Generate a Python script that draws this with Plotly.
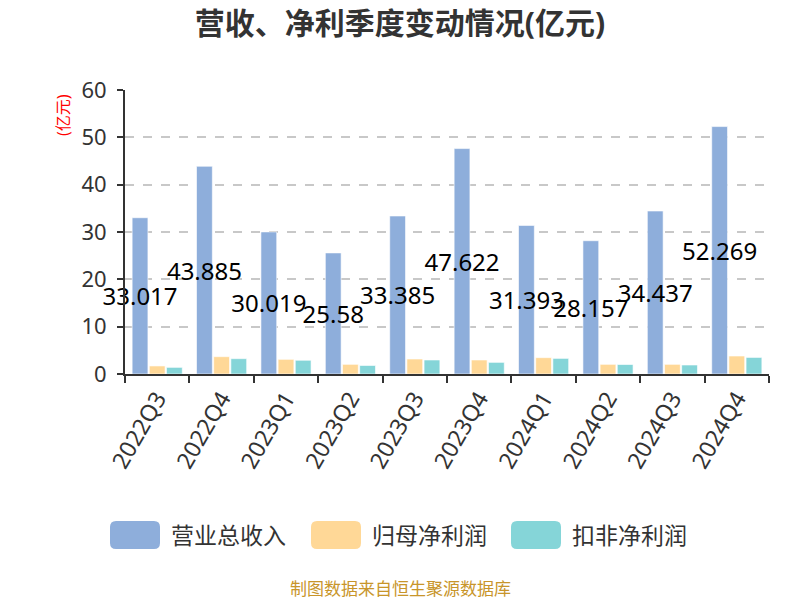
import plotly.graph_objects as go

quarters = ["2022Q3", "2022Q4", "2023Q1", "2023Q2", "2023Q3", "2023Q4", "2024Q1", "2024Q2", "2024Q3", "2024Q4"]
revenue = [33.017, 43.885, 30.019, 25.58, 33.385, 47.622, 31.393, 28.157, 34.437, 52.269]
revenue_labels = ["33.017", "43.885", "30.019", "25.58", "33.385", "47.622", "31.393", "28.157", "34.437", "52.269"]
net_profit = [1.7, 3.66, 3.1, 2.04, 3.17, 2.96, 3.45, 2.04, 2.04, 3.8]
net_profit_ded = [1.4, 3.24, 2.9, 1.8, 2.96, 2.46, 3.3, 2.0, 1.9, 3.5]
series_names = ["营业总收入", "归母净利润", "扣非净利润"]
colors = ["#8EAEDB", "#FFD897", "#85D5D8"]

FONT = "Noto Sans, Noto Sans CJK SC, sans-serif"

fig = go.Figure()
fig.add_trace(go.Bar(
    x=quarters, y=revenue, name=series_names[0], marker_color=colors[0],
    marker_line=dict(color="rgba(255,255,255,0.6)", width=1),
    text=revenue_labels, textposition="inside", insidetextanchor="middle",
    constraintext="none", textangle=0, cliponaxis=False,
    insidetextfont=dict(size=24, color="#000000", family=FONT),
))
fig.add_trace(go.Bar(x=quarters, y=net_profit, name=series_names[1], marker_color=colors[1],
                     marker_line=dict(color="rgba(255,255,255,0.6)", width=1)))
fig.add_trace(go.Bar(x=quarters, y=net_profit_ded, name=series_names[2], marker_color=colors[2],
                     marker_line=dict(color="rgba(255,255,255,0.6)", width=1)))

L, R, T, B = 125, 31, 90, 226
W, H = 800, 600
pw, ph = W - L - R, H - T - B


def px(xv):
    return (xv - L) / pw


def py(yv):
    return (H - B - yv) / ph


fig.update_layout(
    width=W, height=H,
    margin=dict(l=L, r=R, t=T, b=B),
    paper_bgcolor="white", plot_bgcolor="white",
    barmode="group", bargap=0.2, bargroupgap=0.08,
    showlegend=False,
    font=dict(family=FONT, color="#333333"),
    title=dict(text="<b>营收、净利季度变动情况(亿元)</b>", x=0.5, xanchor="center",
               y=1 - 23 / H, yanchor="middle",
               font=dict(size=30, color="#333333", family=FONT)),
    xaxis=dict(
        type="category", tickson="boundaries", ticks="outside", ticklen=7,
        tickwidth=2, tickcolor="#333333",
        showline=True, linecolor="#333333", linewidth=2,
        tickangle=-60, tickfont=dict(size=23, color="#333333", family=FONT),
        showgrid=False,
    ),
    yaxis=dict(
        range=[0, 60], dtick=10, ticks="outside", ticklen=6, tickwidth=2,
        tickcolor="#333333", showline=True, linecolor="#333333", linewidth=2,
        tickfont=dict(size=22, color="#333333", family=FONT),
        ticklabelstandoff=6,
        showgrid=True, gridcolor="#C8C8C8", griddash="dash", gridwidth=1.5,
        zeroline=False,
    ),
)

# y-axis unit label
fig.add_annotation(
    text="(亿元)", xref="paper", yref="paper",
    x=px(63), y=py(115), showarrow=False, textangle=-90,
    xanchor="center", yanchor="middle",
    font=dict(size=16, color="#FF0000", family=FONT),
)

# custom legend
legend_x = [110, 311, 511]
for i, name in enumerate(series_names):
    x0 = legend_x[i]
    x1 = x0 + 50
    y0, y1 = 521, 549
    r = 6
    path_paper = (f"M{px(x0 + r)},{py(y0)} L{px(x1 - r)},{py(y0)} Q{px(x1)},{py(y0)} {px(x1)},{py(y0 + r)} "
                  f"L{px(x1)},{py(y1 - r)} Q{px(x1)},{py(y1)} {px(x1 - r)},{py(y1)} L{px(x0 + r)},{py(y1)} "
                  f"Q{px(x0)},{py(y1)} {px(x0)},{py(y1 - r)} L{px(x0)},{py(y0 + r)} Q{px(x0)},{py(y0)} {px(x0 + r)},{py(y0)} Z")
    fig.add_shape(type="path", path=path_paper, xref="paper", yref="paper",
                  fillcolor=colors[i], line=dict(width=0))
    fig.add_annotation(text=name, xref="paper", yref="paper",
                       x=px(x1 + 9), y=py(535), xanchor="left", yanchor="middle",
                       showarrow=False, font=dict(size=23, color="#333333", family=FONT))

fig.add_annotation(
    text="制图数据来自恒生聚源数据库", xref="paper", yref="paper",
    x=px(400), y=py(588),
    xanchor="center", yanchor="middle", showarrow=False,
    font=dict(size=17, color="#C8952A", family=FONT),
)

fig.write_html("out.html", config={"displayModeBar": False},
               post_script="document.body.style.margin='0px';")
